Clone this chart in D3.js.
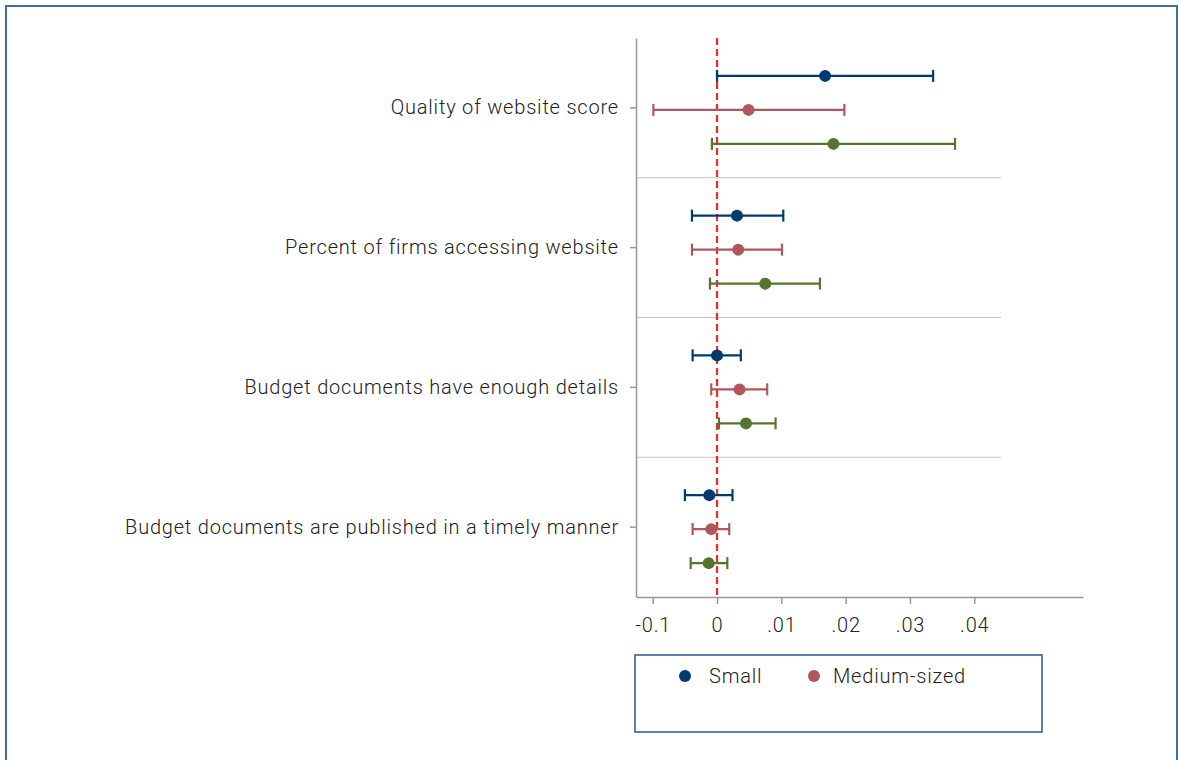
<!DOCTYPE html>
<html lang="en">
<head>
  <meta charset="UTF-8">
  <title>Coefficient plot</title>
  <script src="https://d3js.org/d3.v7.min.js"></script>
  <style>
    body {
      margin: 0;
      background: #fff;
      font-family: 'Roboto', sans-serif;
    }
    .cat-label, .tick-label, .legend-label {
      fill: #222;
      font-weight: 300;
      letter-spacing: 0.8px;
    }
  </style>
</head>
<body>
  <svg id="chart" width="1180" height="760"></svg>

  <script>
    // categories (top to bottom)
    const categories = [
      "Quality of website score",
      "Percent of firms accessing website",
      "Budget documents have enough details",
      "Budget documents are published in a timely manner"
    ];
    const seriesNames = ["Small", "Medium-sized", "Large"];
    const seriesColors = ["#003a70", "#b0565c", "#55752f"];
    const legendNames = ["Small", "Medium-sized"];

    // point estimates and CI per series, in category order
    const smallEst = [0.0168, 0.0031, 0.0000, -0.0012];
    const smallLo  = [0.0000, -0.0039, -0.0038, -0.0050];
    const smallHi  = [0.0336, 0.0103, 0.0037, 0.0024];

    const mediumEst = [0.0049, 0.0033, 0.0035, -0.0009];
    const mediumLo  = [-0.0099, -0.0039, -0.0009, -0.0038];
    const mediumHi  = [0.0198, 0.0101, 0.0078, 0.0019];

    const largeEst = [0.0181, 0.0075, 0.0045, -0.0013];
    const largeLo  = [-0.0008, -0.0011, 0.0003, -0.0041];
    const largeHi  = [0.0370, 0.0160, 0.0091, 0.0016];

    const tickValues = [-0.01, 0, 0.01, 0.02, 0.03, 0.04];
    const tickLabels = ["-0.1", "0", ".01", ".02", ".03", ".04"];

    const estimates = [smallEst, mediumEst, largeEst];
    const lows = [smallLo, mediumLo, largeLo];
    const highs = [smallHi, mediumHi, largeHi];

    const rows = [];
    seriesNames.forEach((s, si) => {
      categories.forEach((c, ci) => {
        rows.push({ series: s, si, cat: c, est: estimates[si][ci], lo: lows[si][ci], hi: highs[si][ci] });
      });
    });

    const svg = d3.select("#chart");

    // outer frame
    svg.append("rect")
      .attr("x", 6).attr("y", 6)
      .attr("width", 1171).attr("height", 770)
      .attr("fill", "none")
      .attr("stroke", "#3f6fa3")
      .attr("stroke-width", 2);

    const plot = { left: 636, right: 1083, top: 38, bottom: 597 };

    const x = d3.scaleLinear()
      .domain([-0.0126, 0.0569])
      .range([plot.left, plot.right]);

    const y = d3.scaleBand()
      .domain(categories)
      .range([plot.top, plot.bottom]);

    const offset = d3.scalePoint()
      .domain(seriesNames)
      .range([-32, 36]);

    const rowY = d => y(d.cat) + y.bandwidth() / 2 + offset(d.series);

    // group separators
    svg.selectAll(".sep")
      .data(categories.slice(1))
      .enter()
      .append("line")
      .attr("x1", plot.left).attr("x2", 1001)
      .attr("y1", d => y(d)).attr("y2", d => y(d))
      .attr("stroke", "#c4c4c4")
      .attr("stroke-width", 1.2);

    // y axis
    const yAxis = svg.append("g")
      .attr("transform", `translate(${plot.left},0)`)
      .call(d3.axisLeft(y).tickSize(6).tickSizeOuter(0).tickPadding(11));
    yAxis.select(".domain").attr("stroke", "#999").attr("stroke-width", 1.5);
    yAxis.selectAll(".tick line").attr("stroke", "#999").attr("stroke-width", 1.5);
    yAxis.selectAll(".tick text")
      .attr("class", "cat-label")
      .style("font-size", "20px")
      .style("font-family", "Roboto, sans-serif");

    // x axis
    const xAxis = svg.append("g")
      .attr("transform", `translate(0,${plot.bottom})`)
      .call(d3.axisBottom(x).tickValues(tickValues)
        .tickFormat((d, i) => tickLabels[i])
        .tickSize(7).tickSizeOuter(0).tickPadding(14));
    xAxis.select(".domain").attr("stroke", "#999").attr("stroke-width", 1.5);
    xAxis.selectAll(".tick line").attr("stroke", "#999").attr("stroke-width", 1.5);
    xAxis.selectAll(".tick text")
      .attr("class", "tick-label")
      .style("font-size", "20px")
      .style("font-family", "Roboto, sans-serif");

    // zero line
    svg.append("line")
      .attr("x1", x(0)).attr("x2", x(0))
      .attr("y1", plot.top).attr("y2", plot.bottom)
      .attr("stroke", "#f02a2a")
      .attr("stroke-width", 2.2)
      .attr("stroke-dasharray", "7,4");

    // error bars
    const bars = svg.append("g").selectAll("g")
      .data(rows)
      .enter()
      .append("g")
      .attr("stroke", d => seriesColors[d.si])
      .attr("stroke-width", 2.2);

    bars.append("line")
      .attr("x1", d => x(d.lo)).attr("x2", d => x(d.hi))
      .attr("y1", rowY).attr("y2", rowY);
    bars.append("line")
      .attr("x1", d => x(d.lo)).attr("x2", d => x(d.lo))
      .attr("y1", d => rowY(d) - 6).attr("y2", d => rowY(d) + 6);
    bars.append("line")
      .attr("x1", d => x(d.hi)).attr("x2", d => x(d.hi))
      .attr("y1", d => rowY(d) - 6).attr("y2", d => rowY(d) + 6);

    svg.append("g").selectAll("circle")
      .data(rows)
      .enter()
      .append("circle")
      .attr("cx", d => x(d.est))
      .attr("cy", rowY)
      .attr("r", 6)
      .attr("fill", d => seriesColors[d.si]);

    // legend
    const legend = svg.append("g");
    legend.append("rect")
      .attr("x", 635).attr("y", 655)
      .attr("width", 407).attr("height", 77)
      .attr("fill", "none")
      .attr("stroke", "#2b5a8a")
      .attr("stroke-width", 1.5);

    const legendDotX = [685, 814];
    const legendTextX = [709, 833];
    legendNames.forEach((n, i) => {
      legend.append("circle")
        .attr("cx", legendDotX[i]).attr("cy", 676)
        .attr("r", 6)
        .attr("fill", seriesColors[i]);
      legend.append("text")
        .attr("class", "legend-label")
        .attr("x", legendTextX[i]).attr("y", 683)
        .style("font-size", "20px")
        .text(n);
    });
  </script>
</body>
</html>
